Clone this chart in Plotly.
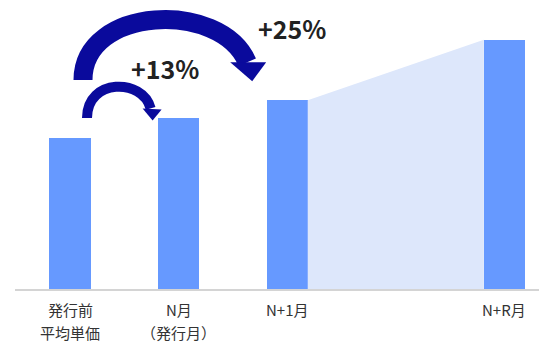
import plotly.graph_objects as go

# ---- data ----
categories_line1 = ["発行前", "N月", "N+1月", "N+R月"]
categories_line2 = ["平均単価", "（発行月）", "", ""]
x_pos = [0, 1, 2, 4]
values = [100, 113, 125, 165]
growth_labels = ["+13%", "+25%"]

# ---- layout geometry ----
W, H = 539, 343
ML, MR, MT, MB = 15, 0, 0, 54
PW, PH = W - ML - MR, H - MT - MB
XR = [-0.5064, 4.3186]
YMAX = 191.4
BAR_W = 0.378

BAR_COLOR = "#6699FF"
FILL_COLOR = "#DDE7FB"
ARROW_COLOR = "#0A0A9C"
TEXT_COLOR = "#333333"


def to_px(x):
    return ML + (x - XR[0]) / (XR[1] - XR[0]) * PW


def to_py(v):
    return MT + PH - v / YMAX * PH


def dx(px):
    return XR[0] + (px - ML) / PW * (XR[1] - XR[0])


def dy(py):
    return (MT + PH - py) / PH * YMAX


def pt(px, py):
    return f"{dx(px)},{dy(py)}"


fig = go.Figure()

# shaded growth area between N+1 and N+R
x3r = x_pos[2] + BAR_W / 2
x4l = x_pos[3] - BAR_W / 2
fig.add_trace(go.Scatter(
    x=[x3r, x4l, x4l, x3r], y=[values[2], values[3], 0, 0],
    fill="toself", fillcolor=FILL_COLOR, mode="lines",
    line=dict(width=0, color=FILL_COLOR), hoverinfo="skip", showlegend=False))

fig.add_trace(go.Bar(
    x=x_pos, y=values, width=BAR_W, marker=dict(color=BAR_COLOR, line=dict(width=0)),
    showlegend=False, hoverinfo="skip"))

shapes = []

# anchors from bar positions (pixels)
b0x, b0y = to_px(x_pos[0]), to_py(values[0])
b1x, b1y = to_px(x_pos[1]), to_py(values[1])
b2x, b2y = to_px(x_pos[2]), to_py(values[2])

# big arrow (bar 0 -> bar 2)
p0 = (b0x + 13, b0y - 58)
p1 = (b0x + 13, 6)
p2 = (b2x - 67, 0)
p3 = (b2x - 40, b2y - 38)
shapes.append(dict(type="path", xref="x", yref="y",
                   path=f"M {pt(*p0)} C {pt(*p1)} {pt(*p2)} {pt(*p3)}",
                   line=dict(color=ARROW_COLOR, width=19), fillcolor="rgba(0,0,0,0)"))
shapes.append(dict(type="path", xref="x", yref="y",
                   path=f"M {pt(b2x-57, b2y-38)} L {pt(b2x-21, b2y-38)} L {pt(b2x-35, b2y-19)} Z",
                   line=dict(color=ARROW_COLOR, width=0), fillcolor=ARROW_COLOR))

# small arrow (bar 0 -> bar 1)
q0 = (b0x + 17, b0y - 20)
q1 = (b0x + 17, 78)
q2 = (b1x - 36, 78)
q3 = (b1x - 28, b1y - 10)
shapes.append(dict(type="path", xref="x", yref="y",
                   path=f"M {pt(*q0)} C {pt(*q1)} {pt(*q2)} {pt(*q3)}",
                   line=dict(color=ARROW_COLOR, width=10), fillcolor="rgba(0,0,0,0)"))
shapes.append(dict(type="path", xref="x", yref="y",
                   path=f"M {pt(b1x-36, b1y-10)} L {pt(b1x-17, b1y-9)} L {pt(b1x-26, b1y+2)} Z",
                   line=dict(color=ARROW_COLOR, width=0), fillcolor=ARROW_COLOR))

annotations = []
FONT = "Noto Sans CJK JP"
for xv, l1, l2 in zip(x_pos, categories_line1, categories_line2):
    annotations.append(dict(x=xv, y=0, xref="x", yref="y", text=l1, showarrow=False,
                            yanchor="middle", yshift=-20,
                            font=dict(family=FONT, size=15, color=TEXT_COLOR)))
    if l2:
        annotations.append(dict(x=xv, y=0, xref="x", yref="y", text=l2, showarrow=False,
                                yanchor="middle", yshift=-43,
                                font=dict(family=FONT, size=15, color=TEXT_COLOR)))

annotations.append(dict(x=dx(165), y=dy(68), xref="x", yref="y", text=f"<b>{growth_labels[0]}</b>",
                        showarrow=False, font=dict(family=FONT, size=25, color="#222222")))
annotations.append(dict(x=dx(292), y=dy(28), xref="x", yref="y", text=f"<b>{growth_labels[1]}</b>",
                        showarrow=False, font=dict(family=FONT, size=25, color="#222222")))

fig.update_layout(
    width=W, height=H,
    margin=dict(l=ML, r=MR, t=MT, b=MB, pad=0),
    paper_bgcolor="white", plot_bgcolor="white",
    shapes=shapes, annotations=annotations,
    xaxis=dict(range=XR, showticklabels=False, showgrid=False, zeroline=False,
               showline=True, linecolor="#D4D4D4", linewidth=2, ticks=""),
    yaxis=dict(range=[0, YMAX], visible=False, showgrid=False, zeroline=False),
    bargap=0,
)

fig.write_html("out.html")
